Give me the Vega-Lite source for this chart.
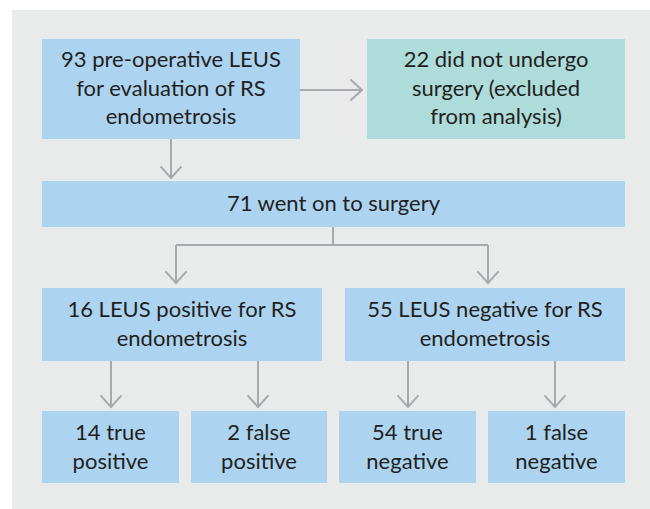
{
  "$schema": "https://vega.github.io/schema/vega-lite/v6.json",
  "width": 650,
  "height": 509,
  "padding": 0,
  "autosize": {"type": "none"},
  "background": "white",
  "config": {"view": {"stroke": null}},
  "datasets": {
    "boxes": [
      {"kind": "panel", "x": 12, "x2": 650, "y": 10, "y2": 509},
      {"kind": "blue", "x": 42, "x2": 300, "y": 39, "y2": 139},
      {"kind": "teal", "x": 367, "x2": 625, "y": 39, "y2": 139},
      {"kind": "blue", "x": 42, "x2": 625, "y": 181, "y2": 227},
      {"kind": "blue", "x": 42, "x2": 322, "y": 288, "y2": 361},
      {"kind": "blue", "x": 345, "x2": 625, "y": 288, "y2": 361},
      {"kind": "blue", "x": 42, "x2": 179, "y": 411, "y2": 483},
      {"kind": "blue", "x": 191, "x2": 327, "y": 411, "y2": 483},
      {"kind": "blue", "x": 339, "x2": 476, "y": 411, "y2": 483},
      {"kind": "blue", "x": 488, "x2": 625, "y": 411, "y2": 483}
    ],
    "lines": [
      {"x": 300, "x2": 362, "y": 90, "y2": 90},
      {"x": 171, "x2": 171, "y": 139, "y2": 178},
      {"x": 333, "x2": 333, "y": 227, "y2": 245},
      {"x": 176, "x2": 488, "y": 245, "y2": 245},
      {"x": 176, "x2": 176, "y": 245, "y2": 283},
      {"x": 488, "x2": 488, "y": 245, "y2": 283},
      {"x": 111, "x2": 111, "y": 361, "y2": 407},
      {"x": 258, "x2": 258, "y": 361, "y2": 407},
      {"x": 408, "x2": 408, "y": 361, "y2": 407},
      {"x": 555, "x2": 555, "y": 361, "y2": 407}
    ],
    "heads": [
      {"dir": "right", "x": 362, "y": 90},
      {"dir": "down", "x": 171, "y": 178},
      {"dir": "down", "x": 176, "y": 283},
      {"dir": "down", "x": 488, "y": 283},
      {"dir": "down", "x": 111, "y": 407},
      {"dir": "down", "x": 258, "y": 407},
      {"dir": "down", "x": 408, "y": 407},
      {"dir": "down", "x": 555, "y": 407}
    ],
    "labels": [
      {"x": 171, "y": 60, "label": ["93 pre-operative LEUS", "for evaluation of RS", "endometrosis"]},
      {"x": 496, "y": 60, "label": ["22 did not undergo", "surgery (excluded", "from analysis)"]},
      {"x": 333.5, "y": 204, "label": ["71 went on to surgery"]},
      {"x": 182, "y": 310, "label": ["16 LEUS positive for RS", "endometrosis"]},
      {"x": 485, "y": 310, "label": ["55 LEUS negative for RS", "endometrosis"]},
      {"x": 110.5, "y": 433, "label": ["14 true", "positive"]},
      {"x": 259, "y": 433, "label": ["2 false", "positive"]},
      {"x": 407.5, "y": 433, "label": ["54 true", "negative"]},
      {"x": 556.5, "y": 433, "label": ["1 false", "negative"]}
    ]
  },
  "encoding": {
    "x": {"field": "x", "type": "quantitative", "scale": {"domain": [0, 650], "nice": false, "zero": false}, "axis": null},
    "y": {"field": "y", "type": "quantitative", "scale": {"domain": [0, 509], "reverse": true, "nice": false, "zero": false}, "axis": null}
  },
  "layer": [
    {
      "data": {"name": "boxes"},
      "mark": {"type": "rect"},
      "encoding": {
        "x2": {"field": "x2"},
        "y2": {"field": "y2"},
        "color": {"field": "kind", "type": "nominal", "legend": null,
          "scale": {"domain": ["panel", "blue", "teal"], "range": ["#e9ebeb", "#acd4f0", "#aedcda"]}}
      }
    },
    {
      "data": {"name": "lines"},
      "mark": {"type": "rule", "color": "#a7a9ac", "strokeWidth": 2},
      "encoding": {"x2": {"field": "x2"}, "y2": {"field": "y2"}}
    },
    {
      "data": {"name": "heads"},
      "mark": {"type": "point", "shape": "M-1,-1.1L0,0L1,-1.1", "filled": false, "color": "#a7a9ac", "strokeWidth": 2, "size": 441, "opacity": 1},
      "encoding": {
        "angle": {"field": "dir", "type": "nominal", "scale": {"domain": ["down", "right"], "range": [0, 270]}, "legend": null}
      }
    },
    {
      "data": {"name": "labels"},
      "mark": {"type": "text", "font": "Lato", "fontSize": 22, "color": "#231f20", "align": "center", "baseline": "middle", "lineHeight": 28.5},
      "encoding": {"text": {"field": "label"}}
    }
  ]
}
